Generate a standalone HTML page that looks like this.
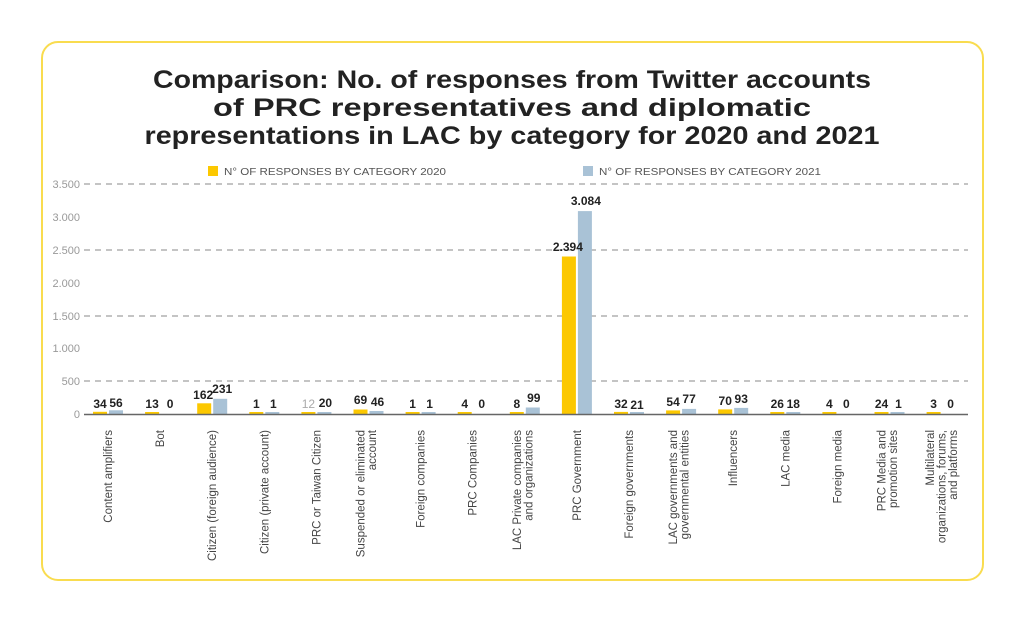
<!DOCTYPE html>
<html><head><meta charset="utf-8"><style>
html,body{margin:0;padding:0;background:#fff;}
svg{display:block;font-family:"Liberation Sans",sans-serif;}
</style></head><body>
<svg width="1024" height="623" viewBox="0 0 1024 623" xmlns="http://www.w3.org/2000/svg">
<rect x="0" y="0" width="1024" height="623" fill="#fff"/>
<rect x="42" y="42" width="941" height="538" rx="16" fill="#fff" stroke="#f9dc4f" stroke-width="2"/>
<g font-weight="bold" font-size="25" fill="#222" text-anchor="middle">
<text x="512" y="88" textLength="718" lengthAdjust="spacingAndGlyphs">Comparison: No. of responses from Twitter accounts</text>
<text x="512" y="116" textLength="598" lengthAdjust="spacingAndGlyphs">of PRC representatives and diplomatic</text>
<text x="512" y="144" textLength="735" lengthAdjust="spacingAndGlyphs">representations in LAC by category for 2020 and 2021</text>
</g>
<rect x="208" y="166" width="10" height="10" fill="#fcc800"/>
<text x="224" y="175" font-size="10" fill="#555" textLength="222" lengthAdjust="spacingAndGlyphs">N° OF RESPONSES BY CATEGORY 2020</text>
<rect x="583" y="166" width="10" height="10" fill="#a9c2d6"/>
<text x="599" y="175" font-size="10" fill="#555" textLength="222" lengthAdjust="spacingAndGlyphs">N° OF RESPONSES BY CATEGORY 2021</text>
<g stroke="#888" stroke-width="1" stroke-dasharray="6,5">
<line x1="84" y1="184" x2="968" y2="184"/>
<line x1="84" y1="250" x2="968" y2="250"/>
<line x1="84" y1="316" x2="968" y2="316"/>
<line x1="84" y1="381" x2="968" y2="381"/>
</g>
<g font-size="11" fill="#999" text-anchor="end">
<text x="80" y="188">3.500</text><text x="80" y="221">3.000</text><text x="80" y="254">2.500</text>
<text x="80" y="287">2.000</text><text x="80" y="320">1.500</text><text x="80" y="352">1.000</text>
<text x="80" y="385">500</text><text x="80" y="418">0</text>
</g>
<g>
<rect x="93" y="411.8" width="14" height="2.2" fill="#fcc800"/><rect x="109" y="410.3" width="14" height="3.7" fill="#a9c2d6"/>
<rect x="145.1" y="412" width="14" height="2" fill="#fcc800"/>
<rect x="197.2" y="403.3" width="14" height="10.7" fill="#fcc800"/><rect x="213.2" y="398.8" width="14" height="15.2" fill="#a9c2d6"/>
<rect x="249.3" y="412" width="14" height="2" fill="#fcc800"/><rect x="265.3" y="412" width="14" height="2" fill="#a9c2d6"/>
<rect x="301.4" y="412" width="14" height="2" fill="#fcc800"/><rect x="317.4" y="412" width="14" height="2" fill="#a9c2d6"/>
<rect x="353.5" y="409.5" width="14" height="4.5" fill="#fcc800"/><rect x="369.5" y="411" width="14" height="3" fill="#a9c2d6"/>
<rect x="405.6" y="412" width="14" height="2" fill="#fcc800"/><rect x="421.6" y="412" width="14" height="2" fill="#a9c2d6"/>
<rect x="457.7" y="412" width="14" height="2" fill="#fcc800"/>
<rect x="509.8" y="412" width="14" height="2" fill="#fcc800"/><rect x="525.8" y="407.5" width="14" height="6.5" fill="#a9c2d6"/>
<rect x="561.9" y="256.5" width="14" height="157.5" fill="#fcc800"/><rect x="577.9" y="211.1" width="14" height="202.9" fill="#a9c2d6"/>
<rect x="614" y="411.9" width="14" height="2.1" fill="#fcc800"/><rect x="630" y="412" width="14" height="2" fill="#a9c2d6"/>
<rect x="666.1" y="410.4" width="14" height="3.6" fill="#fcc800"/><rect x="682.1" y="408.9" width="14" height="5.1" fill="#a9c2d6"/>
<rect x="718.2" y="409.4" width="14" height="4.6" fill="#fcc800"/><rect x="734.2" y="407.9" width="14" height="6.1" fill="#a9c2d6"/>
<rect x="770.3" y="412" width="14" height="2" fill="#fcc800"/><rect x="786.3" y="412" width="14" height="2" fill="#a9c2d6"/>
<rect x="822.4" y="412" width="14" height="2" fill="#fcc800"/>
<rect x="874.5" y="412" width="14" height="2" fill="#fcc800"/><rect x="890.5" y="412" width="14" height="2" fill="#a9c2d6"/>
<rect x="926.6" y="412" width="14" height="2" fill="#fcc800"/>
</g>
<g font-size="12" font-weight="bold" fill="#222" text-anchor="middle">
<text x="100" y="408">34</text><text x="116" y="407">56</text>
<text x="152.1" y="408">13</text><text x="170.1" y="408">0</text>
<text x="203.2" y="399">162</text><text x="222.2" y="393">231</text>
<text x="256.3" y="408">1</text><text x="273.3" y="408">1</text>
<text x="308.4" y="408" font-weight="normal" fill="#aaa">12</text><text x="325.4" y="407">20</text>
<text x="360.5" y="404">69</text><text x="377.5" y="406">46</text>
<text x="412.6" y="408">1</text><text x="429.6" y="408">1</text>
<text x="464.7" y="408">4</text><text x="481.7" y="408">0</text>
<text x="516.8" y="408">8</text><text x="533.8" y="402">99</text>
<text x="567.9" y="251">2.394</text><text x="585.9" y="205">3.084</text>
<text x="621" y="408">32</text><text x="637" y="409">21</text>
<text x="673.1" y="406">54</text><text x="689.1" y="403">77</text>
<text x="725.2" y="405">70</text><text x="741.2" y="403">93</text>
<text x="777.3" y="408">26</text><text x="793.3" y="408">18</text>
<text x="829.4" y="408">4</text><text x="846.4" y="408">0</text>
<text x="881.5" y="408">24</text><text x="898.5" y="408">1</text>
<text x="933.6" y="408">3</text><text x="950.6" y="408">0</text>
</g>
<line x1="84" y1="414.5" x2="968" y2="414.5" stroke="#666" stroke-width="1.5"/>
<g font-size="11.5" fill="#444" text-anchor="end">
<text transform="translate(112,430) rotate(-90)">Content amplifiers</text>
<text transform="translate(164.1,430) rotate(-90)">Bot</text>
<text transform="translate(216.2,430) rotate(-90)">Citizen (foreign audience)</text>
<text transform="translate(268.3,430) rotate(-90)">Citizen (private account)</text>
<text transform="translate(320.4,430) rotate(-90)">PRC or Taiwan Citizen</text>
<text transform="translate(364.5,430) rotate(-90)">Suspended or eliminated</text>
<text transform="translate(376,430) rotate(-90)">account</text>
<text transform="translate(520.8,430) rotate(-90)">LAC Private companies</text>
<text transform="translate(532.3,430) rotate(-90)">and organizations</text>
<text transform="translate(424.6,430) rotate(-90)">Foreign companies</text>
<text transform="translate(476.7,430) rotate(-90)">PRC Companies</text>
<text transform="translate(580.9,430) rotate(-90)">PRC Government</text>
<text transform="translate(633,430) rotate(-90)">Foreign governments</text>
<text transform="translate(677.1,430) rotate(-90)">LAC governments and</text>
<text transform="translate(688.6,430) rotate(-90)">governmental entities</text>
<text transform="translate(737.2,430) rotate(-90)">Influencers</text>
<text transform="translate(789.3,430) rotate(-90)">LAC media</text>
<text transform="translate(841.4,430) rotate(-90)">Foreign media</text>
<text transform="translate(885.5,430) rotate(-90)">PRC Media and</text>
<text transform="translate(897,430) rotate(-90)">promotion sites</text>
<text transform="translate(934,430) rotate(-90)">Multilateral</text>
<text transform="translate(945.5,430) rotate(-90)">organizations, forums,</text>
<text transform="translate(957,430) rotate(-90)">and platforms</text>
</g>
</svg>
</body></html>
